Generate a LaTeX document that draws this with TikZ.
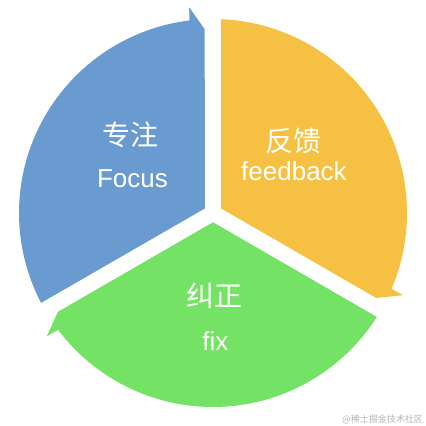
\documentclass[tikz,border=0pt]{standalone}
\usepackage{fontspec}
\setmainfont{Liberation Sans}
\newfontfamily\cjk{Noto Sans CJK SC}
\definecolor{pblue}{HTML}{6A9BD0}
\definecolor{pyellow}{HTML}{F6C143}
\definecolor{pgreen}{HTML}{74E264}
\definecolor{wmgray}{HTML}{B4B4B4}
\tikzset{
  cjklabel/.style={text=white, inner sep=0pt, anchor=base, font=\cjk\fontsize{28}{28}\selectfont},
  latlabel/.style={text=white, inner sep=0pt, anchor=base, font=\fontsize{26}{26}\selectfont},
}
\begin{document}
\begin{tikzpicture}[x=1pt,y=1pt]
\useasboundingbox (-213,-213) rectangle (213,213);
% blue sector (tip at top)
\fill[pblue] (150:9.24pt) -- (207.6:194pt) arc[start angle=207.6, end angle=97, radius=194pt]
  -- (96.6:207pt) -- (92.6:184pt) -- cycle;
% yellow sector (tip at lower right)
\fill[pyellow] (30:9.24pt) -- (87.6:194pt) arc[start angle=87.6, end angle=-23, radius=194pt]
  -- (-23.4:207pt) -- (-27.5:184pt) -- cycle;
% green sector (tip at lower left)
\fill[pgreen] (-90:9.24pt) -- (-32.4:194pt) arc[start angle=-32.4, end angle=-143, radius=194pt]
  -- (-143.4:207pt) -- (-147.5:184pt) -- cycle;
% labels
\node[cjklabel] (zz) at (-82,67.5) {专注};
\node[latlabel] (focus) at (-80.5,25.7) {Focus};
\node[cjklabel] (fk) at (80.7,61.7) {反馈};
\node[latlabel] (feedback) at (81,33) {feedback};
\node[cjklabel] (jz) at (1.7,-93.3) {纠正};
\node[latlabel] (fix) at (2.3,-137) {fix};
\node[text=wmgray, inner sep=0pt, font=\cjk\fontsize{9}{9}\selectfont] (wm) at (169.5,-206) {@稀土掘金技术社区};
\end{tikzpicture}
\end{document}
